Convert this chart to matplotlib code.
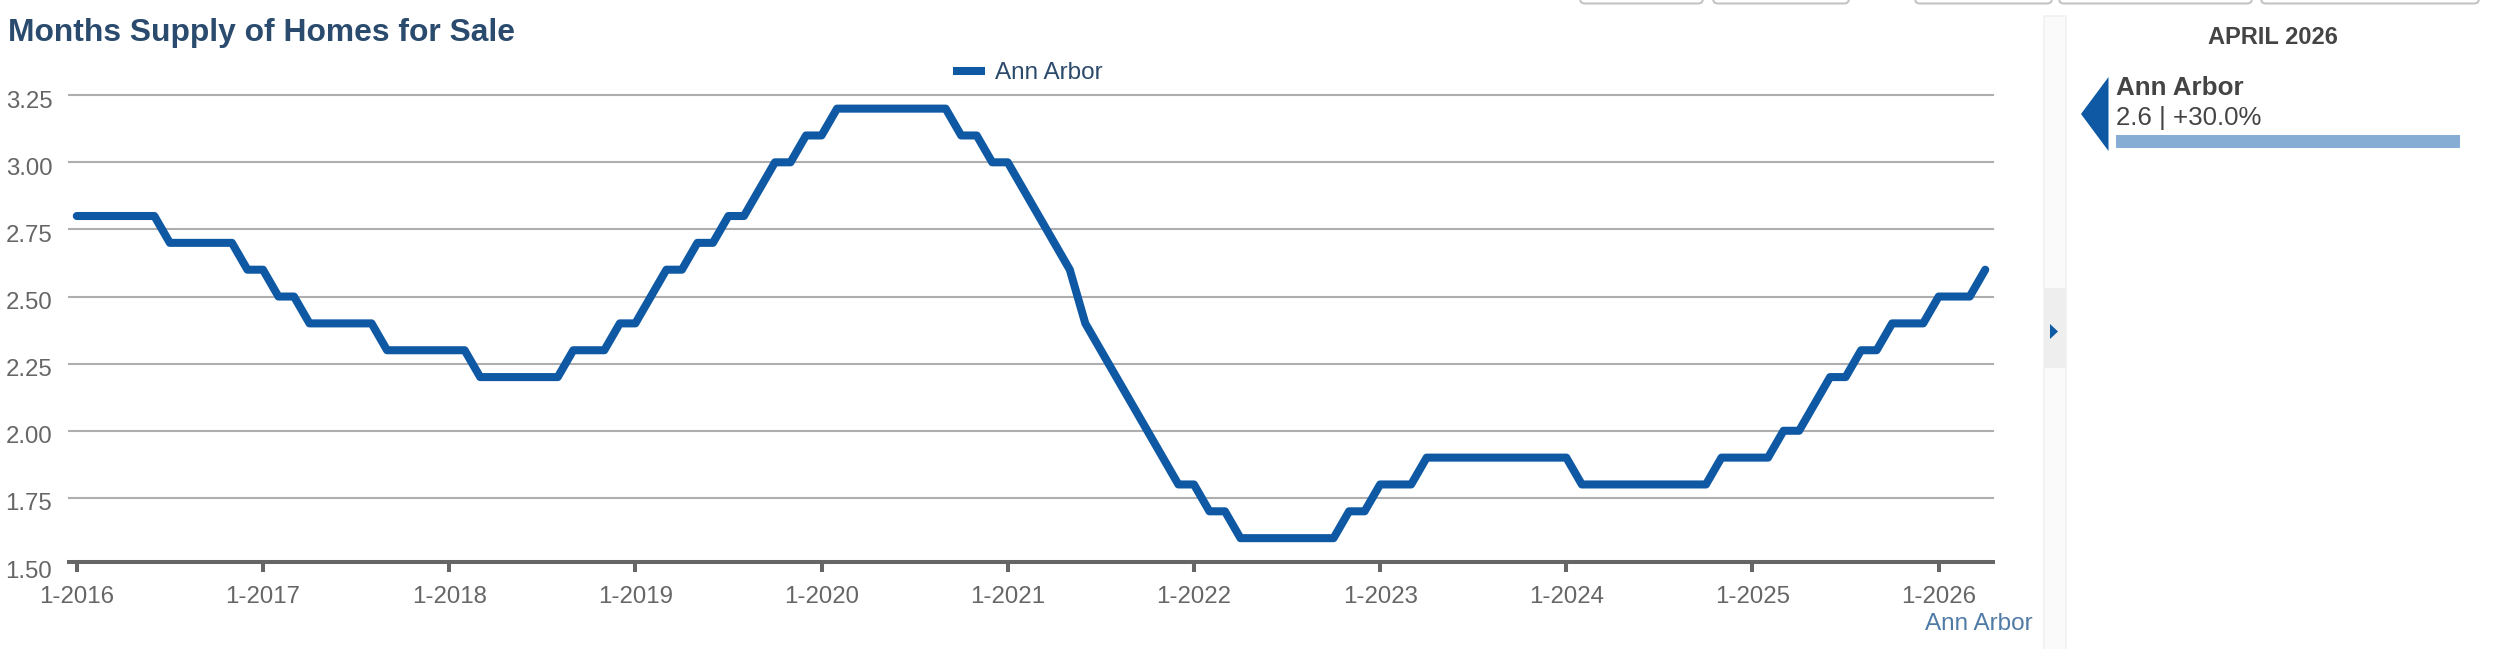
import numpy as np
import matplotlib
matplotlib.use('Agg')
import matplotlib.pyplot as plt
from matplotlib.patches import FancyBboxPatch, Polygon, Rectangle
from matplotlib.transforms import ScaledTranslation

# monthly values, one list per year
y2016 = [2.8, 2.8, 2.8, 2.8, 2.8, 2.8, 2.7, 2.7, 2.7, 2.7, 2.7, 2.6]
y2017 = [2.6, 2.5, 2.5, 2.4, 2.4, 2.4, 2.4, 2.4, 2.3, 2.3, 2.3, 2.3]
y2018 = [2.3, 2.3, 2.2, 2.2, 2.2, 2.2, 2.2, 2.2, 2.3, 2.3, 2.3, 2.4]
y2019 = [2.4, 2.5, 2.6, 2.6, 2.7, 2.7, 2.8, 2.8, 2.9, 3.0, 3.0, 3.1]
y2020 = [3.1, 3.2, 3.2, 3.2, 3.2, 3.2, 3.2, 3.2, 3.2, 3.1, 3.1, 3.0]
y2021 = [3.0, 2.9, 2.8, 2.7, 2.6, 2.4, 2.3, 2.2, 2.1, 2.0, 1.9, 1.8]
y2022 = [1.8, 1.7, 1.7, 1.6, 1.6, 1.6, 1.6, 1.6, 1.6, 1.6, 1.7, 1.7]
y2023 = [1.8, 1.8, 1.8, 1.9, 1.9, 1.9, 1.9, 1.9, 1.9, 1.9, 1.9, 1.9]
y2024 = [1.9, 1.8, 1.8, 1.8, 1.8, 1.8, 1.8, 1.8, 1.8, 1.8, 1.9, 1.9]
y2025 = [1.9, 1.9, 2.0, 2.0, 2.1, 2.2, 2.2, 2.3, 2.3, 2.4, 2.4, 2.4]
y2026 = [2.5, 2.5, 2.5, 2.6]

year_labels = ['1-2016', '1-2017', '1-2018', '1-2019', '1-2020', '1-2021',
               '1-2022', '1-2023', '1-2024', '1-2025', '1-2026']
y_ticks = [1.5, 1.75, 2.0, 2.25, 2.5, 2.75, 3.0, 3.25]
series_name = 'Ann Arbor'
latest_value = [2.6]

supply = y2016 + y2017 + y2018 + y2019 + y2020 + y2021 + y2022 + y2023 + y2024 + y2025 + y2026
months = np.arange(len(supply))

W, H = 2500, 649
BLUE = '#0f59a4'
plt.rcParams['font.family'] = ['Liberation Sans', 'DejaVu Sans']

fig = plt.figure(figsize=(W / 100, H / 100), dpi=100)


def px_axes(x0, y0, x1, y1):
    return fig.add_axes([x0 / W, 1 - y1 / H, (x1 - x0) / W, (y1 - y0) / H])


# main chart
ax = px_axes(69, 95.2, 1993, 565)
ax.plot(months, supply, color=BLUE, lw=5.8, solid_capstyle='round',
        solid_joinstyle='round', label=series_name, zorder=3)
ax.set_xlim(-0.5, 123.5)
ax.set_ylim(1.5, 3.25)
ax.set_xticks(months[::12])
ax.set_xticklabels(year_labels)
ax.set_yticks(y_ticks)
ax.set_yticklabels(['%.2f' % v for v in y_ticks])

for s in ['top', 'right', 'left']:
    ax.spines[s].set_visible(False)
ax.spines['bottom'].set_position(('data', 1.51))
ax.spines['bottom'].set_color('#666666')
ax.spines['bottom'].set_linewidth(2.9)

ax.grid(axis='y', color='#aeaeae', lw=1.5)
ax.set_axisbelow(True)
for gl in ax.get_ygridlines():
    gl.set_clip_on(False)
ax.get_ygridlines()[0].set_visible(False)

ax.tick_params(axis='x', length=7, width=2.9, color='#666666', labelcolor='#666666',
               labelsize=17.3, pad=10)
ax.tick_params(axis='y', length=0, labelcolor='#666666', labelsize=17.3, pad=12)
for lab in ax.get_yticklabels():
    lab.set_transform(lab.get_transform() + ScaledTranslation(0, -4 / 100, fig.dpi_scale_trans))

leg = ax.legend(loc='center left', bbox_to_anchor=(953 / W, 1 - 73 / H), bbox_transform=fig.transFigure,
                frameon=False, fontsize=17.5, handlelength=1.32, handletextpad=0.41,
                labelcolor='#2b4a6b', borderpad=0, borderaxespad=0)
leg.get_lines()[0].set_linewidth(5.8)
leg.get_lines()[0].set_solid_capstyle('butt')

# page furniture in pixel coordinates
page = fig.add_axes([0, 0, 1, 1], zorder=-1)
page.set_xlim(0, W)
page.set_ylim(H, 0)
page.axis('off')

page.text(8, 33, 'Months Supply of Homes for Sale', fontsize=22.9, fontweight='bold',
          color='#2a4b6e', va='center', ha='left')
page.text(2033, 624, series_name, fontsize=17.5, color='#4f7ba6', va='center', ha='right')

# cut off buttons along the top edge
for x0, x1 in [(1580, 1703), (1713, 1849), (1915, 2052), (2059, 2252), (2261, 2479)]:
    page.add_patch(FancyBboxPatch((x0, -20), x1 - x0, 23.5,
                                  boxstyle='round,pad=0,rounding_size=5', mutation_scale=1,
                                  fc='white', ec='#c4c4c4', lw=1.5))

# collapse strip
page.add_patch(Rectangle((2044, 15.5), 21.5, H, fc='#fafafa', ec='#f1f1f1', lw=1.2))
page.add_patch(Rectangle((2044, 288), 21.5, 80, fc='#eeeeee', ec='none'))
page.add_patch(Polygon([(2050, 324), (2058, 331.5), (2050, 339)], fc=BLUE, ec='none'))

# side panel
page.text(2273, 38, 'APRIL 2026', fontsize=17, fontweight='bold', color='#444444', va='center', ha='center')
page.add_patch(Polygon([(2081, 114), (2108.5, 77), (2108.5, 151)], fc=BLUE, ec='none'))
page.text(2116, 88, series_name, fontsize=18.7, fontweight='bold', color='#444444', va='center', ha='left')
page.text(2116, 117.5, '%.1f | +30.0%%' % latest_value[0], fontsize=18.6, color='#444444', va='center', ha='left')

bar_ax = px_axes(2116, 134.5, 2460, 148)
bar_ax.barh([0], latest_value, height=1, color='#86add4')
bar_ax.set_xlim(0, latest_value[0])
bar_ax.set_ylim(-0.5, 0.5)
bar_ax.axis('off')

fig.savefig('out.png', dpi=100)
